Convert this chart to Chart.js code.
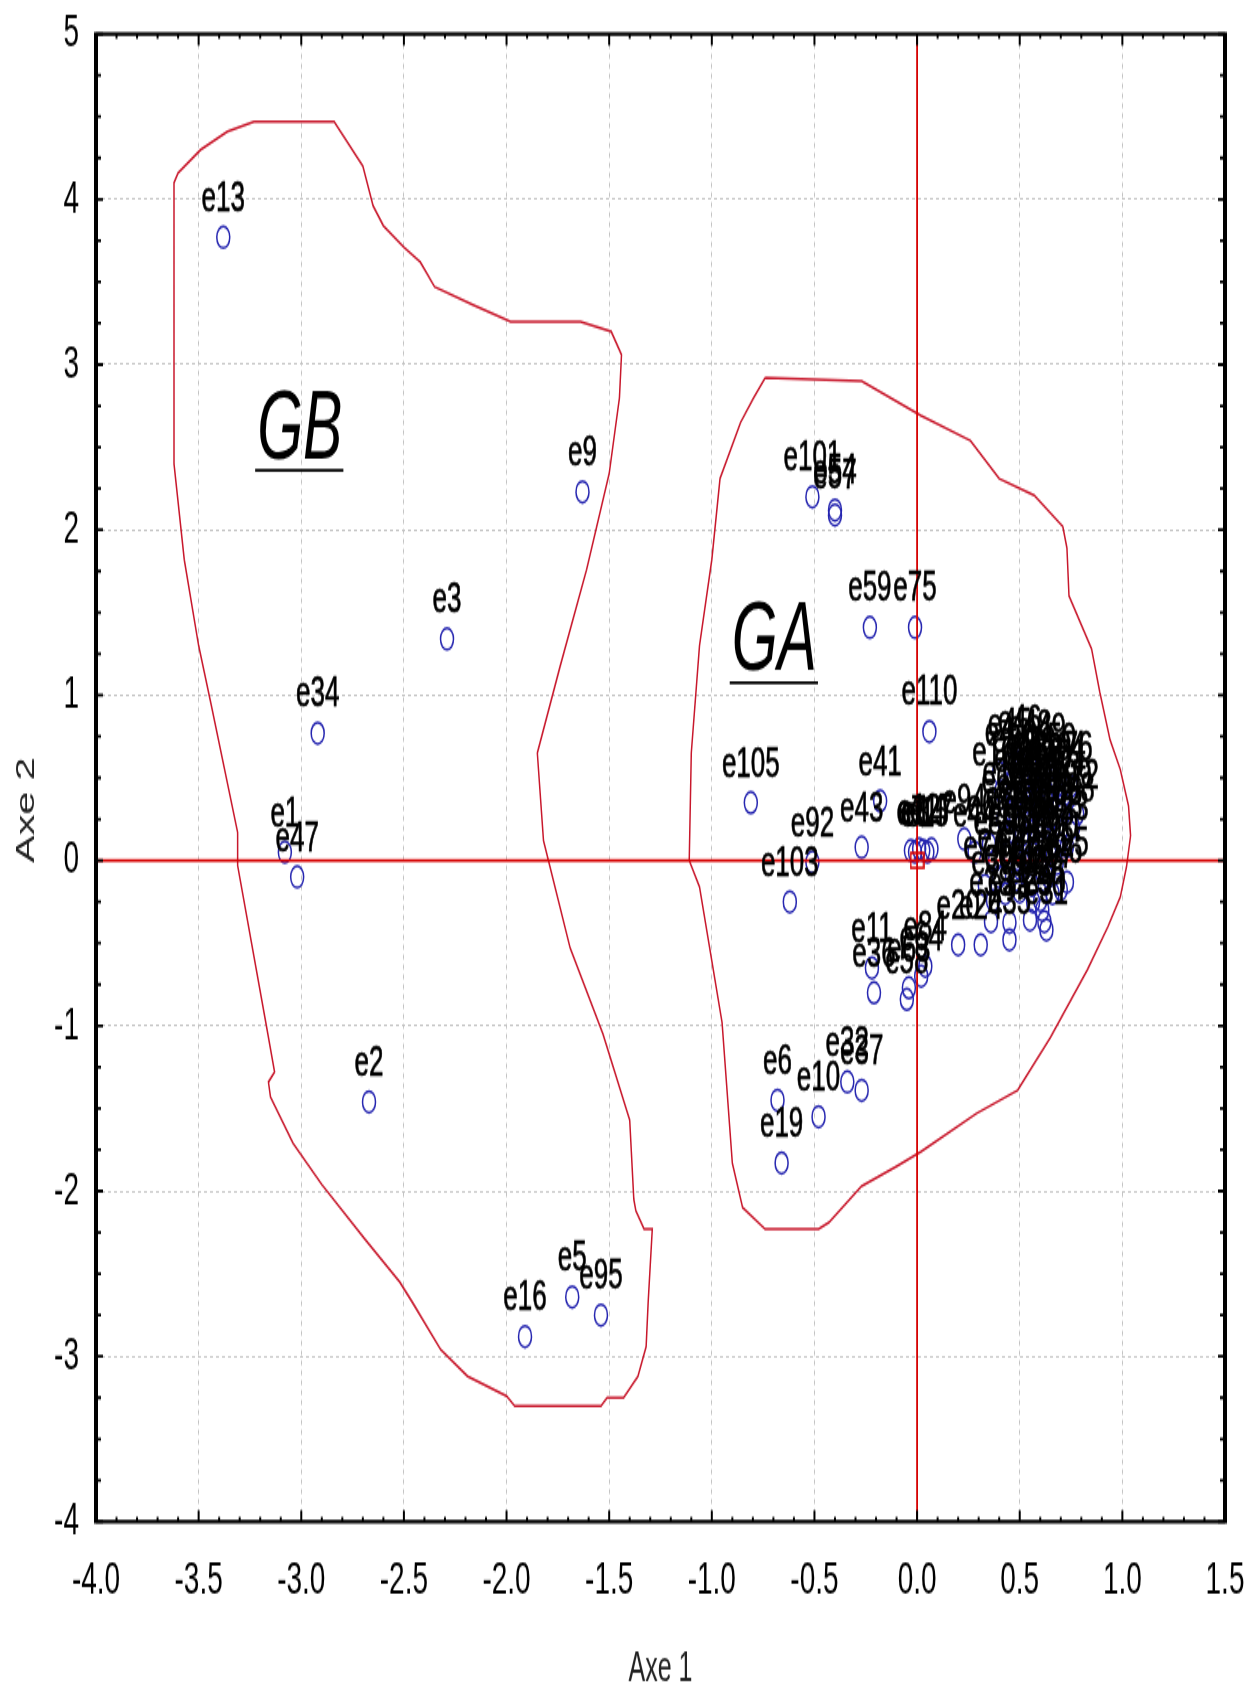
<!DOCTYPE html>
<html>
<head>
<meta charset="utf-8">
<script src="https://cdn.jsdelivr.net/npm/chart.js@4.4.1/dist/chart.umd.min.js"></script>
<style>
body{margin:0;background:#fff;}
#plot{display:block;background:#fff;}
</style>
</head>
<body>
<canvas id="plot" width="1245" height="1025" style="width:1245px;height:1691px;"></canvas>
<script>

/* DATA */

// observations: name, Axe 1, Axe 2
const pointNames = [
// group GB
"e13","e9","e3","e34","e1","e47","e2","e16","e5","e95",
// group GA, readable ones
"e101","e54","e57","e59","e75","e110","e105","e41","e43","e92","e103",
"e6","e10","e19","e32","e37","e11","e36","e58","e63","e64","e84","e20","e24","e94","e44",
// pile near the origin
"e7","e8","e12","e14","e15","e17",
// dense cloud on the right
"e4","e18","e21","e22","e23","e25","e26","e27","e28","e29","e30","e31","e33","e35","e38",
"e39","e40","e42","e45","e46","e48","e49","e50","e51","e52","e53","e55","e56","e60","e61",
"e62","e65","e66","e67","e68","e69","e70","e71","e72","e73","e74","e76","e77","e78",
"e80","e81","e82","e83","e85","e86","e87","e88","e89","e90","e91","e93","e96","e97","e98",
"e99","e100","e102","e104","e106","e107","e108","e109"
];

const axe1 = [
-3.38,-1.63,-2.29,-2.92,-3.08,-3.02,-2.67,-1.91,-1.68,-1.54,
-0.51,-0.40,-0.40,-0.23,-0.01,0.06,-0.81,-0.18,-0.27,-0.51,-0.62,
-0.68,-0.48,-0.66,-0.34,-0.27,-0.22,-0.21,-0.05,-0.04,0.02,0.04,0.20,0.31,0.23,0.28,
-0.03,-0.01,0.01,0.03,0.05,0.07,
0.40,0.535,0.60,0.78,0.73,0.73,0.70,0.60,0.61,0.55,0.62,0.63,0.45,0.45,0.36,
0.37,0.50,0.565,0.45,0.50,0.55,0.62,0.67,0.72,0.48,0.55,0.65,0.70,0.42,0.50,
0.58,0.66,0.35,0.45,0.52,0.60,0.68,0.40,0.48,0.56,0.33,0.75,0.64,0.57,
0.47,0.52,0.60,0.69,0.44,0.53,0.62,0.70,0.38,0.57,0.64,0.50,0.43,0.66,0.76,
0.54,0.59,0.46,0.68,0.51,0.63,0.41,0.71
];

const axe2 = [
3.77,2.23,1.34,0.77,0.05,-0.10,-1.46,-2.88,-2.64,-2.75,
2.20,2.12,2.09,1.41,1.41,0.78,0.35,0.36,0.08,-0.01,-0.25,
-1.45,-1.55,-1.83,-1.34,-1.39,-0.65,-0.80,-0.84,-0.77,-0.70,-0.64,-0.51,-0.51,0.13,0.05,
0.06,0.05,0.07,0.06,0.05,0.07,
0.53,0.45,0.32,0.28,0.085,-0.13,-0.175,-0.24,-0.30,-0.36,-0.37,-0.42,-0.375,-0.48,-0.37,
-0.24,-0.19,-0.25,0.58,0.60,0.57,0.55,0.50,0.40,0.38,0.30,0.25,0.18,0.25,0.20,
0.12,0.05,0.10,0.05,0.00,-0.05,-0.02,-0.10,-0.12,-0.15,-0.15,0.45,0.40,0.48,
0.50,0.42,0.44,0.33,0.15,0.10,0.20,0.10,0.00,0.04,-0.10,-0.05,-0.20,-0.20,0.20,
0.35,0.27,0.30,0.45,0.15,0.36,0.42,0.28
];

// centre of gravity
const centreX = [0];
const centreY = [0];

// hull of group GB
const gbX = [-3.23,-3.36,-3.49,-3.60,-3.62,-3.62,-3.62,-3.57,-3.50,-3.44,-3.31,-3.31,-3.17,-3.13,-3.16,-3.15,-3.04,-2.90,-2.69,-2.52,-2.46,-2.32,-2.19,-2.00,-1.96,-1.54,-1.51,-1.43,-1.36,-1.32,-1.31,-1.29,-1.33,-1.37,-1.38,-1.40,-1.53,-1.69,-1.82,-1.85,-1.74,-1.61,-1.50,-1.45,-1.44,-1.49,-1.64,-1.98,-2.16,-2.35,-2.42,-2.50,-2.60,-2.65,-2.70,-2.84,-3.23];
const gbY = [4.47,4.41,4.30,4.16,4.10,2.90,2.40,1.82,1.30,0.95,0.17,-0.03,-1.00,-1.28,-1.34,-1.43,-1.71,-1.96,-2.29,-2.55,-2.67,-2.96,-3.12,-3.24,-3.30,-3.30,-3.25,-3.25,-3.12,-2.94,-2.67,-2.23,-2.23,-2.12,-2.05,-1.57,-1.05,-0.53,0.12,0.65,1.17,1.76,2.34,2.80,3.06,3.20,3.26,3.26,3.36,3.47,3.62,3.71,3.84,3.96,4.20,4.47,4.47];

// hull of group GA
const gaX = [-0.74,-0.27,0.02,0.26,0.40,0.57,0.71,0.73,0.74,0.85,0.89,0.94,0.99,1.03,1.04,1.02,0.99,0.93,0.83,0.65,0.49,0.29,0.02,-0.10,-0.27,-0.43,-0.48,-0.74,-0.85,-0.90,-0.95,-1.06,-1.11,-1.10,-1.06,-1.00,-0.96,-0.86,-0.80,-0.74];
const gaY = [2.92,2.90,2.69,2.54,2.31,2.21,2.02,1.89,1.60,1.28,1.02,0.73,0.55,0.33,0.15,-0.04,-0.22,-0.40,-0.66,-1.07,-1.39,-1.53,-1.76,-1.85,-1.97,-2.19,-2.23,-2.23,-2.10,-1.83,-0.98,-0.16,0.00,0.65,1.30,1.82,2.31,2.65,2.79,2.92];

// group names written on the map
const groupNames = ["GB","GA"];
const groupX = [-3.215,-0.903];
const groupY = [2.435,1.149];

// axes
const xRange = [-4,1.5];
const yRange = [-4,5];
const xTickLabels = ["-4.0","-3.5","-3.0","-2.5","-2.0","-1.5","-1.0","-0.5","0.0","0.5","1.0","1.5"];
const yTickLabels = ["-4","-3","-2","-1","0","1","2","3","4","5"];
const xTitle = "Axe 1";
const yTitle = "Axe 2";


/* LOOK */

const FONT = "'Liberation Sans', Arial, sans-serif";
const RED = "#d60000";
const HULL = "#c8182c";
const BLUE = "#2626b0";
const GRID = "#c4c4c4";

// little red square for the centre
const square = document.createElement("canvas");
square.width = 15;
square.height = 11;
const sctx = square.getContext("2d");
sctx.strokeStyle = RED;
sctx.lineWidth = 1.6;
sctx.strokeRect(1,1,13,9);


/* PLUGINS */

// point names, written above each marker
const pointLabels = {
id:"pointLabels",
afterDatasetsDraw(chart){
const ctx = chart.ctx;
const meta = chart.getDatasetMeta(0);
ctx.save();
ctx.font = "26px "+FONT;
ctx.fillStyle = "#000";
ctx.strokeStyle = "#000";
ctx.lineWidth = 0.5;
ctx.textAlign = "center";
ctx.textBaseline = "alphabetic";
meta.data.forEach((pt,i)=>{
ctx.fillText(pointNames[i], pt.x, pt.y-16);
ctx.strokeText(pointNames[i], pt.x, pt.y-16);
});
ctx.restore();
}
};

// GA / GB, italic and underlined
const groupLabels = {
id:"groupLabels",
afterDatasetsDraw(chart){
const {ctx, scales:{x,y}} = chart;
ctx.save();
ctx.font = "italic 59px "+FONT;
ctx.fillStyle = "#000";
ctx.strokeStyle = "#000";
ctx.lineWidth = 1.8;
groupNames.forEach((g,i)=>{
const px = x.getPixelForValue(groupX[i]);
const py = y.getPixelForValue(groupY[i]);
ctx.fillText(g, px, py);
const w = ctx.measureText(g).width;
ctx.beginPath();
ctx.moveTo(px-2, py+7.5);
ctx.lineTo(px+w+1, py+7.5);
ctx.stroke();
});
ctx.restore();
}
};

// vertical axis title, set a little lower than the middle as in the source
const sideTitle = {
id:"sideTitle",
afterDraw(chart){
const ctx = chart.ctx;
ctx.save();
ctx.translate(27, 491);
ctx.rotate(-Math.PI/2);
ctx.font = "25px "+FONT;
ctx.fillStyle = "#222";
ctx.textAlign = "center";
ctx.textBaseline = "middle";
ctx.fillText(yTitle, 0, 0);
ctx.restore();
}
};

// black box round the plot with small inward ticks
const frame = {
id:"frame",
afterDraw(chart){
const {ctx, chartArea:a, scales:{x,y}} = chart;
ctx.save();
ctx.strokeStyle = "#000";

ctx.lineWidth = 2;
for(let i=0;i<=55;i++){
let px = x.getPixelForValue(xRange[0]+i*0.1);
let len = (i%5===0) ? 7 : 3;
ctx.beginPath();
ctx.moveTo(px,a.bottom); ctx.lineTo(px,a.bottom-len);
ctx.moveTo(px,a.top); ctx.lineTo(px,a.top+len);
ctx.stroke();
}

ctx.lineWidth = 1.8;
for(let i=0;i<=36;i++){
let py = y.getPixelForValue(yRange[0]+i*0.25);
let len = (i%4===0) ? 7 : 5;
ctx.beginPath();
ctx.moveTo(a.left,py); ctx.lineTo(a.left+len,py);
ctx.moveTo(a.right,py); ctx.lineTo(a.right-len,py);
ctx.stroke();
}

ctx.lineWidth = 2.4;
ctx.beginPath();
ctx.moveTo(a.left-2,a.top); ctx.lineTo(a.right+2,a.top);
ctx.moveTo(a.left-2,a.bottom); ctx.lineTo(a.right+2,a.bottom);
ctx.stroke();
ctx.lineWidth = 4;
ctx.beginPath();
ctx.moveTo(a.left,a.top); ctx.lineTo(a.left,a.bottom);
ctx.moveTo(a.right,a.top); ctx.lineTo(a.right,a.bottom);
ctx.stroke();
ctx.restore();
}
};


/* CHART */

const xy = (xs,ys)=>xs.map((v,i)=>({x:v,y:ys[i]}));

new Chart(document.getElementById("plot"),{
type:"scatter",
data:{
datasets:[
{
label:"observations",
data:xy(axe1,axe2),
pointStyle:"circle",
pointRadius:6.5,
borderWidth:1.5,
borderColor:BLUE,
backgroundColor:"rgba(0,0,0,0)",
order:3
},
{
label:"centre",
data:xy(centreX,centreY),
pointStyle:square,
order:1
},
{
label:"GA",
data:xy(gaX,gaY),
showLine:true,
pointRadius:0,
borderColor:HULL,
borderWidth:1.5,
tension:0,
order:4
},
{
label:"GB",
data:xy(gbX,gbY),
showLine:true,
pointRadius:0,
borderColor:HULL,
borderWidth:1.5,
tension:0,
order:4
},
{
label:"axe1 zero",
data:xy(xRange,[0,0]),
showLine:true,
pointRadius:0,
borderColor:RED,
borderWidth:1.8,
order:2
},
{
label:"axe2 zero",
data:xy([0,0],yRange),
showLine:true,
pointRadius:0,
borderColor:RED,
borderWidth:1.8,
order:2
}
]
},
options:{
responsive:false,
devicePixelRatio:1,
animation:false,
events:[],
layout:{padding:{top:20.6,right:20,bottom:0,left:0}},
plugins:{
legend:{display:false},
tooltip:{enabled:false}
},
scales:{
x:{
type:"linear",
position:"bottom",
min:xRange[0],
max:xRange[1],
ticks:{
stepSize:0.5,
autoSkip:false,
maxRotation:0,
padding:19,
color:"#000",
font:{family:FONT,size:28},
callback:(v,i)=>xTickLabels[i]
},
grid:{color:GRID,lineWidth:1,drawTicks:false},
border:{display:false,dash:[3,3]},
title:{display:true,text:xTitle,color:"#222",font:{family:FONT,size:25,lineHeight:1},padding:{top:0,bottom:0}},
afterFit(s){ s.height = 102.6; s.paddingLeft = 0; s.paddingRight = 0; }
},
y:{
type:"linear",
position:"left",
min:yRange[0],
max:yRange[1],
ticks:{
stepSize:1,
autoSkip:false,
padding:17,
color:"#000",
font:{family:FONT,size:28},
callback:(v,i)=>yTickLabels[i]
},
grid:{color:GRID,lineWidth:1,drawTicks:false},
border:{display:false,dash:[3,3]},
title:{display:false},
afterFit(s){ s.width = 96; s.paddingTop = 0; s.paddingBottom = 0; }
}
}
},
plugins:[groupLabels,pointLabels,frame,sideTitle]
});

</script>
</body>
</html>
